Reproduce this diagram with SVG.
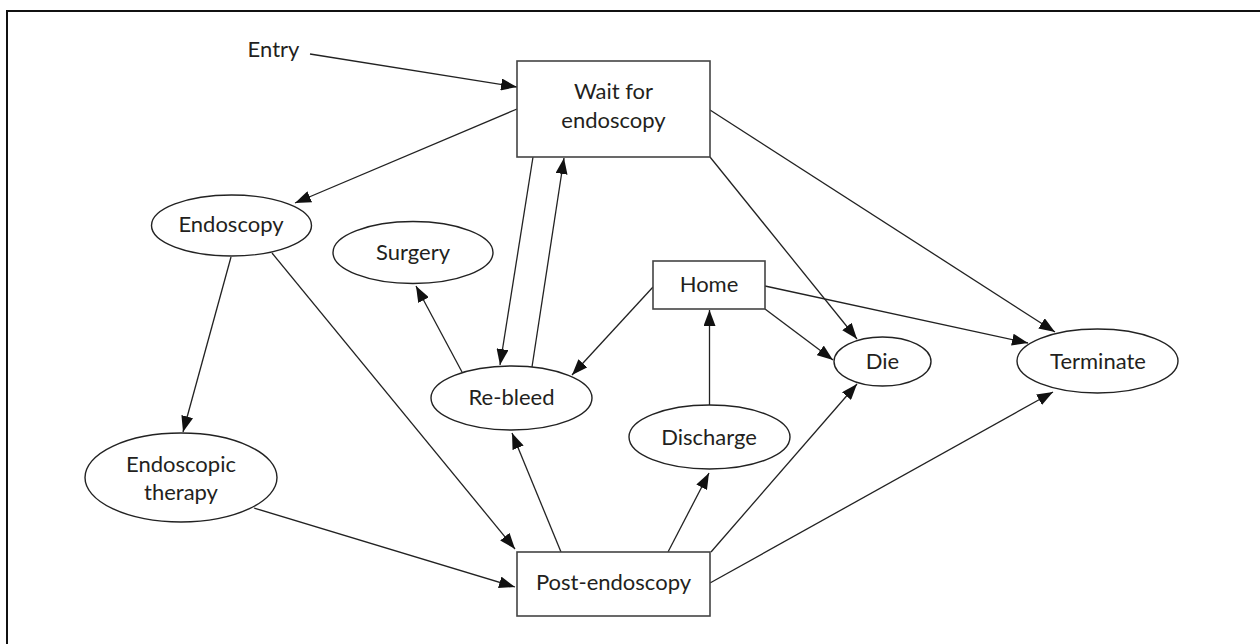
<svg xmlns="http://www.w3.org/2000/svg" width="1260" height="644" viewBox="0 0 1260 644">
<style>
.box{fill:#fff;stroke:#444;stroke-width:1.6}
.ell{fill:#fff;stroke:#222;stroke-width:1.4}
.lbl{font-family:Lato,"Liberation Sans",sans-serif;font-size:22px;fill:#231f20;text-anchor:middle}
.edge{stroke:#222;stroke-width:1.3;fill:none;marker-end:url(#ah)}
.frame{stroke:#111;stroke-width:2;fill:none}
</style>
<defs>
<marker id="ah" markerUnits="userSpaceOnUse" markerWidth="16" markerHeight="12" viewBox="0 0 16 12" refX="16" refY="6" orient="auto">
<path d="M0,0 L16,6 L0,12 z" fill="#111"/>
</marker>
</defs>
<rect width="1260" height="644" fill="#fff"/>
<path class="frame" d="M7,644 V11 H1260"/>
<g id="connectors">
<line class="edge" x1="310" y1="54" x2="517" y2="87"/>
<line class="edge" x1="517" y1="109" x2="295" y2="203"/>
<line class="edge" x1="533" y1="157" x2="500" y2="365"/>
<line class="edge" x1="532" y1="367" x2="564" y2="158"/>
<line class="edge" x1="710" y1="157" x2="857" y2="339"/>
<line class="edge" x1="710" y1="110" x2="1055" y2="332"/>
<line class="edge" x1="231" y1="257" x2="183" y2="432"/>
<line class="edge" x1="272" y1="253" x2="515" y2="549"/>
<line class="edge" x1="254" y1="508" x2="515" y2="587"/>
<line class="edge" x1="462" y1="372" x2="416" y2="286"/>
<line class="edge" x1="653" y1="287" x2="572" y2="375"/>
<line class="edge" x1="765" y1="309" x2="833" y2="360"/>
<line class="edge" x1="765" y1="286" x2="1028" y2="343"/>
<line class="edge" x1="709.5" y1="405" x2="709.5" y2="310"/>
<line class="edge" x1="561" y1="552" x2="512" y2="433"/>
<line class="edge" x1="668" y1="552" x2="709" y2="473"/>
<line class="edge" x1="711" y1="552" x2="857" y2="384"/>
<line class="edge" x1="710" y1="583" x2="1053" y2="392"/>
</g>
<g id="entry"><text class="lbl" x="273.5" y="57">Entry</text></g>
<g id="wait">
<rect class="box" x="517" y="61" width="193" height="96"/>
<text class="lbl" x="613.5" y="99">Wait for</text>
<text class="lbl" x="613.5" y="128">endoscopy</text>
</g>
<g id="endoscopy">
<ellipse class="ell" cx="231.5" cy="225.5" rx="80" ry="30.5"/>
<text class="lbl" x="231" y="232">Endoscopy</text>
</g>
<g id="surgery">
<ellipse class="ell" cx="413" cy="252.5" rx="80" ry="31"/>
<text class="lbl" x="413" y="260">Surgery</text>
</g>
<g id="home">
<rect class="box" x="653" y="261" width="112" height="48"/>
<text class="lbl" x="709" y="292">Home</text>
</g>
<g id="rebleed">
<ellipse class="ell" cx="511.5" cy="398" rx="80.5" ry="32"/>
<text class="lbl" x="511.5" y="405">Re-bleed</text>
</g>
<g id="die">
<ellipse class="ell" cx="882.5" cy="361.5" rx="48.5" ry="24.5"/>
<text class="lbl" x="882.5" y="369">Die</text>
</g>
<g id="terminate">
<ellipse class="ell" cx="1097.5" cy="361" rx="80.5" ry="32"/>
<text class="lbl" x="1098" y="369">Terminate</text>
</g>
<g id="discharge">
<ellipse class="ell" cx="709.5" cy="437" rx="80.5" ry="32"/>
<text class="lbl" x="709" y="445">Discharge</text>
</g>
<g id="therapy">
<ellipse class="ell" cx="181" cy="477.5" rx="96" ry="44.5"/>
<text class="lbl" x="181" y="472">Endoscopic</text>
<text class="lbl" x="181" y="500">therapy</text>
</g>
<g id="post">
<rect class="box" x="517" y="552" width="193" height="64"/>
<text class="lbl" x="613.5" y="590">Post-endoscopy</text>
</g>
</svg>
